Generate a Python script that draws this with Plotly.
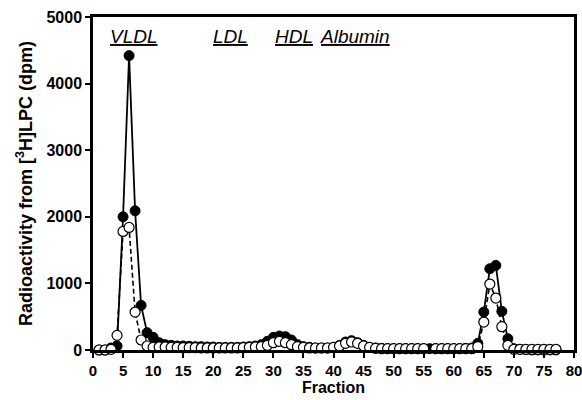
import plotly.graph_objects as go

fractions = list(range(1, 78))

filled_vals = [0, 0, 30, 60, 2000, 4420, 2090, 670, 260, 190,
               110, 80, 70, 60, 60, 55, 50, 50, 45, 45,
               40, 40, 40, 40, 45, 50, 60, 80, 130, 190,
               210, 200, 150, 80, 50, 40, 30, 30, 30, 40,
               70, 120, 140, 110, 70, 40, 30, 25, 20, 20,
               20, 20, 20, 20, 20, 20, 20, 20, 20, 20,
               20, 25, 30, 100, 570, 1220, 1270, 580, 170, 20,
               10, 5, 0, 0, 0, 0, 0]

open_vals = [0, 0, 10, 220, 1780, 1840, 570, 150, 60, 40,
             45, 45, 40, 40, 35, 35, 35, 30, 30, 30,
             30, 30, 30, 30, 35, 40, 45, 50, 70, 110,
             130, 110, 80, 50, 40, 30, 30, 30, 30, 40,
             60, 100, 120, 100, 60, 40, 25, 20, 20, 20,
             20, 20, 20, 20, 20, None, 20, 20, 20, 20,
             20, 20, 20, 50, 420, 990, 780, 350, 70, 10,
             10, 10, 10, 10, 10, 10, 10]

x_ticks = list(range(0, 81, 5))
y_ticks = [0, 1000, 2000, 3000, 4000, 5000]

labels = ["VLDL", "LDL", "HDL", "Albumin"]
label_x = [6.8, 22.8, 33.4, 43.6]
label_y = [4710, 4710, 4710, 4710]

FONT = "Liberation Sans, Arial, sans-serif"

fig = go.Figure()
fig.add_trace(go.Scatter(
    x=fractions, y=filled_vals, mode="lines+markers",
    line=dict(color="black", width=1.8),
    marker=dict(symbol="circle", size=10, color="black",
                line=dict(color="black", width=1)),
    showlegend=False, cliponaxis=False, hoverinfo="skip"))
fig.add_trace(go.Scatter(
    x=fractions, y=open_vals, mode="lines+markers",
    line=dict(color="black", width=1.6, dash="5px,3px"),
    marker=dict(symbol="circle", size=10, color="white",
                line=dict(color="black", width=1.2)),
    showlegend=False, cliponaxis=False, hoverinfo="skip"))

for t, xx, yy in zip(labels, label_x, label_y):
    fig.add_annotation(x=xx, y=yy, xref="x", yref="y",
                       text="<i><u>" + t + "</u></i>", showarrow=False,
                       font=dict(family=FONT, size=19, color="black"))

fig.update_layout(
    width=582, height=400,
    margin=dict(l=93, r=8, t=17, b=50),
    paper_bgcolor="white", plot_bgcolor="white",
    font=dict(family=FONT, color="black"),
)
fig.update_xaxes(
    range=[0, 80], tickvals=x_ticks, ticktext=[f"<b>{v}</b>" for v in x_ticks],
    showline=True, linecolor="black", linewidth=2.5, mirror=True,
    ticks="outside", ticklen=5, tickwidth=2, tickcolor="black",
    showgrid=False, zeroline=False, automargin=False,
    ticklabeloverflow="allow",
    tickfont=dict(family=FONT, size=15, color="black"),
    title=dict(text="<b>Fraction</b>", font=dict(family=FONT, size=16, color="black"), standoff=4),
)
fig.update_yaxes(
    range=[0, 5000], tickvals=y_ticks, ticktext=[f"<b>{v}</b>" for v in y_ticks],
    showline=True, linecolor="black", linewidth=2.5, mirror=True,
    ticks="outside", ticklen=5, tickwidth=2, tickcolor="black",
    showgrid=False, zeroline=False, automargin=False,
    ticklabeloverflow="allow",
    tickfont=dict(family=FONT, size=16, color="black"),
    title=dict(text="<b>Radioactivity from [<sup>3</sup>H]LPC (dpm)</b>",
               font=dict(family=FONT, size=18, color="black"), standoff=10),
)

fig.write_html("out.html", config={"displayModeBar": False},
               post_script="document.body.style.margin='0';")
